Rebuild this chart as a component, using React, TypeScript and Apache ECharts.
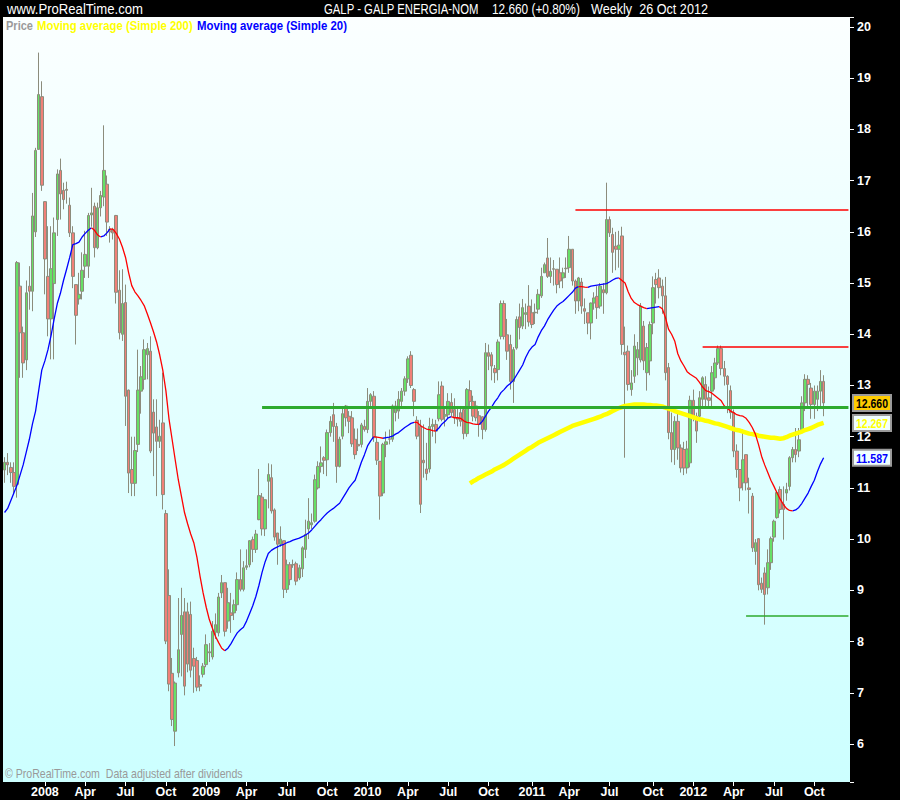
import React, { useEffect, useRef } from "react";
import * as echarts from "echarts";

// ---------- DATA (weekly, first week = 5 Oct 2007) ----------
// each candle: [open, close, low, high]
const candlesQ4_2007 = [
  [11.35, 11.5, 11.1, 11.6], [11.5, 11.45, 11.25, 11.68], [11.4, 11.3, 11.1, 11.5], [11.3, 11.03, 10.88, 11.5],
  [11.07, 15.4, 10.81, 15.43], [14.94, 14.03, 13.15, 15.4], [14.03, 13.44, 13.15, 14.15], [13.5, 14.81, 13.3, 15.05],
  [14.94, 14.84, 14.48, 15.33], [14.84, 16.31, 14.45, 16.76], [16.0, 17.59, 15.9, 17.64], [17.61, 18.68, 17.6, 19.5],
  [18.64, 16.91, 16.8, 18.94],
];
const candles2008 = [
  [16.59, 15.47, 14.78, 16.6], [15.13, 14.3, 13.96, 16.11], [14.3, 15.28, 13.51, 16.11], [14.99, 15.98, 13.51, 16.28],
  [16.24, 17.13, 15.92, 17.22], [17.2, 16.74, 16.24, 17.43], [16.81, 16.63, 16.44, 16.96], [16.83, 16.81, 16.55, 16.98],
  [16.52, 15.98, 15.9, 16.67], [15.98, 15.13, 14.9, 16.11], [14.97, 14.37, 13.8, 14.97], [14.69, 14.78, 14.58, 15.2],
  [14.84, 15.25, 14.68, 15.6], [15.33, 15.56, 15.1, 16.02], [15.33, 16.32, 15.1, 16.37], [16.33, 16.37, 16.1, 16.86],
  [16.5, 15.69, 15.5, 16.57], [15.69, 16.47, 15.66, 16.57], [16.47, 16.71, 16.3, 16.8], [16.68, 17.2, 16.5, 18.08],
  [16.93, 16.19, 15.92, 17.1], [16.05, 16.0, 15.79, 16.11], [16.02, 15.98, 15.85, 16.08], [16.32, 14.82, 14.6, 16.33],
  [14.86, 14.03, 13.9, 15.25], [14.0, 14.6, 13.87, 15.27], [14.62, 12.79, 12.21, 14.97], [12.91, 11.29, 10.9, 12.92],
  [11.36, 11.09, 10.84, 12.0], [11.09, 11.73, 10.84, 12.0], [11.85, 12.91, 11.7, 13.7], [12.89, 13.17, 12.45, 13.38],
  [13.12, 13.7, 12.92, 13.9], [13.6, 13.72, 13.12, 13.83], [13.67, 11.72, 11.68, 13.96], [12.48, 12.07, 11.23, 12.73],
  [12.19, 11.91, 10.84, 12.73], [11.91, 12.01, 11.78, 12.33], [12.27, 10.87, 10.58, 13.25], [10.5, 8.01, 7.95, 10.57],
  [8.9, 7.17, 7.03, 9.41], [7.38, 6.48, 6.35, 7.68], [6.25, 7.19, 5.96, 7.22], [7.39, 7.84, 7.3, 8.85],
  [8.14, 8.51, 7.32, 9.05], [8.58, 7.13, 6.95, 8.85], [8.58, 7.56, 7.4, 8.76], [8.53, 7.44, 7.3, 8.78],
  [7.67, 7.52, 7.0, 7.88], [7.63, 7.11, 7.03, 7.7], [7.16, 7.13, 7.03, 7.34], [7.36, 7.52, 7.3, 7.58],
];
const candles2009 = [
  [7.55, 7.94, 7.5, 8.14], [7.78, 7.8, 7.6, 7.97], [7.7, 8.2, 7.65, 8.4], [8.18, 8.33, 8.05, 8.55],
  [8.17, 8.87, 8.1, 8.95], [8.95, 9.15, 8.85, 9.3], [9.15, 8.2, 8.1, 9.15], [8.4, 8.76, 8.25, 9.05],
  [8.56, 8.51, 8.17, 8.95], [8.56, 8.72, 8.42, 8.82], [8.72, 9.21, 8.6, 9.35], [9.21, 9.02, 8.98, 9.8],
  [9.02, 9.44, 8.98, 9.57], [9.45, 9.48, 9.4, 9.8], [9.5, 9.97, 9.45, 9.98], [9.99, 9.8, 9.55, 10.05],
  [9.8, 10.1, 9.73, 10.18], [10.38, 10.85, 10.37, 11.37], [10.82, 10.2, 10.07, 10.9], [10.2, 10.77, 10.06, 10.77],
  [11.13, 11.26, 10.6, 11.48], [11.2, 10.55, 10.5, 11.46], [10.57, 10.04, 9.97, 10.6], [10.12, 9.9, 9.5, 10.12],
  [9.9, 10.0, 9.85, 10.25], [9.97, 9.02, 8.85, 9.97], [9.02, 9.5, 8.95, 9.6], [9.5, 9.21, 9.1, 9.55],
  [9.5, 9.5, 9.44, 9.6], [9.52, 9.18, 9.1, 9.56], [9.24, 9.44, 9.2, 9.5], [9.42, 9.83, 9.26, 9.86],
  [9.8, 10.09, 9.63, 10.38], [10.2, 10.35, 10.0, 10.8], [10.28, 10.32, 10.2, 10.5], [10.35, 11.16, 10.32, 11.26],
  [11.0, 11.42, 10.97, 11.52], [11.42, 11.49, 11.3, 11.81], [11.59, 11.54, 11.27, 11.62], [11.55, 12.08, 11.23, 12.14],
  [12.08, 12.3, 12.0, 12.4], [12.43, 12.2, 11.9, 12.66], [12.2, 11.42, 11.1, 12.27], [11.42, 11.95, 11.4, 12.0],
  [12.01, 12.45, 11.95, 12.6], [12.6, 12.37, 12.2, 12.62], [12.4, 12.3, 12.07, 12.5], [12.37, 11.86, 11.8, 12.5],
  [11.95, 11.65, 11.56, 12.16], [11.85, 11.82, 11.72, 12.16], [11.85, 12.23, 11.79, 12.27], [12.2, 12.14, 12.1, 12.33],
];
const candles2010 = [
  [12.14, 12.69, 12.07, 12.95], [12.69, 12.82, 12.6, 12.85], [12.79, 11.98, 11.9, 12.89], [11.89, 11.54, 11.45, 12.0],
  [11.52, 10.84, 10.38, 11.52], [10.9, 11.85, 10.84, 11.88], [11.85, 11.9, 11.6, 12.1], [11.96, 11.95, 11.85, 12.14],
  [11.95, 12.6, 11.9, 12.63], [12.47, 12.6, 12.3, 12.7], [12.5, 12.73, 12.35, 12.89], [12.69, 12.89, 12.6, 12.95],
  [12.89, 13.13, 12.8, 13.18], [13.13, 13.52, 13.05, 13.57], [13.59, 13.0, 12.95, 13.67], [12.92, 12.69, 12.4, 12.95],
  [12.32, 12.01, 11.95, 12.4], [12.2, 10.68, 10.51, 12.33], [11.54, 11.49, 11.2, 12.24], [11.37, 11.28, 11.15, 11.88],
  [11.37, 12.2, 11.3, 12.37], [12.2, 12.24, 12.0, 12.35], [12.24, 12.11, 11.87, 12.33], [12.35, 12.82, 12.3, 13.08],
  [12.99, 12.34, 12.3, 13.08], [12.4, 12.43, 12.2, 12.6], [12.43, 12.69, 12.35, 12.85], [12.67, 12.47, 12.4, 12.85],
  [12.53, 12.37, 12.25, 12.75], [12.37, 12.34, 12.2, 12.6], [12.47, 12.3, 12.2, 12.6], [12.53, 12.06, 11.95, 12.56],
  [12.06, 12.92, 12.0, 12.95], [12.9, 12.69, 12.6, 13.1], [12.69, 12.4, 12.3, 12.8], [12.6, 12.37, 12.3, 12.7],
  [12.41, 12.24, 12.0, 12.5], [12.39, 12.14, 11.95, 12.4], [12.14, 13.64, 12.1, 13.83], [13.64, 13.57, 13.3, 13.8],
  [13.6, 13.38, 13.1, 13.65], [13.33, 13.25, 13.05, 13.4], [13.31, 13.85, 13.1, 13.9], [13.96, 14.6, 13.9, 14.66],
  [14.6, 13.96, 13.9, 14.66], [13.99, 13.67, 13.5, 14.3], [13.8, 13.08, 12.92, 13.99], [13.08, 13.7, 12.66, 13.75],
  [13.73, 14.29, 13.7, 14.35], [14.34, 14.13, 13.9, 14.6], [14.16, 14.52, 14.1, 14.69], [14.39, 14.42, 14.1, 14.6],
  [14.55, 14.24, 14.15, 14.96],
];
const candles2011 = [
  [14.42, 14.19, 14.12, 14.68], [14.42, 14.43, 14.2, 14.6], [14.49, 14.78, 14.4, 14.88], [14.75, 15.13, 14.71, 15.3],
  [15.2, 15.36, 15.2, 15.4], [15.49, 15.13, 15.1, 15.88], [15.13, 15.23, 15.0, 15.5], [15.28, 15.27, 14.95, 15.45],
  [15.27, 14.97, 14.8, 15.27], [15.2, 15.04, 14.9, 15.5], [15.1, 15.2, 14.9, 15.3], [15.28, 15.29, 15.1, 15.5],
  [15.3, 15.66, 15.2, 15.92], [15.66, 15.04, 14.95, 15.66], [15.04, 14.65, 14.4, 15.07], [14.65, 15.1, 14.45, 15.12],
  [15.02, 14.55, 14.4, 15.1], [14.5, 14.45, 14.2, 14.7], [14.42, 14.22, 14.0, 14.42], [14.22, 14.61, 13.9, 14.62],
  [14.61, 14.71, 14.48, 14.82], [14.74, 14.52, 14.3, 14.94], [14.55, 14.94, 14.5, 15.0], [14.87, 14.81, 14.4, 15.0],
  [14.81, 16.24, 14.78, 16.96], [16.24, 15.98, 15.9, 16.3], [15.95, 15.6, 15.2, 16.08], [15.72, 15.66, 15.25, 16.0],
  [15.66, 15.74, 15.3, 16.02], [15.92, 13.8, 13.6, 16.1], [13.65, 13.6, 11.59, 14.15], [13.67, 13.02, 12.9, 13.78],
  [12.92, 13.05, 12.8, 13.3], [13.18, 13.77, 13.05, 14.0], [13.54, 13.7, 13.2, 13.85], [13.5, 14.55, 13.45, 14.61],
  [14.16, 13.48, 13.3, 14.26], [13.25, 13.74, 12.9, 13.83], [13.48, 14.19, 13.2, 14.25], [14.22, 14.91, 14.0, 15.13],
  [15.07, 14.97, 14.6, 15.2], [15.1, 14.91, 14.7, 15.27], [14.94, 14.75, 14.4, 15.07], [14.75, 13.25, 13.1, 15.12],
  [13.35, 12.08, 11.95, 13.44], [12.08, 11.75, 11.5, 12.47], [11.75, 12.3, 11.45, 12.4], [12.3, 11.78, 11.55, 12.5],
  [11.78, 11.39, 11.3, 11.85], [11.75, 11.39, 11.25, 11.9], [11.39, 11.76, 11.28, 11.92], [11.49, 12.71, 11.4, 12.8],
];
const candles2012 = [
  [12.71, 12.37, 12.3, 12.92], [12.4, 12.11, 11.88, 12.47], [12.4, 12.76, 12.3, 12.89], [12.73, 13.15, 12.55, 13.18],
  [13.02, 12.73, 12.55, 13.18], [12.76, 12.71, 12.55, 12.98], [12.89, 13.25, 12.56, 13.38], [13.15, 13.44, 12.92, 13.54],
  [13.44, 13.72, 13.4, 13.78], [13.72, 13.33, 13.2, 13.78], [13.33, 13.18, 13.0, 13.48], [13.18, 13.02, 12.46, 13.2],
  [12.9, 12.47, 12.35, 13.0], [12.47, 11.72, 11.6, 12.53], [11.72, 11.36, 11.2, 11.85], [11.36, 11.0, 10.74, 11.36],
  [11.1, 11.55, 10.95, 12.14], [11.65, 11.1, 10.95, 11.65], [11.0, 10.97, 10.5, 11.2], [10.84, 9.83, 9.75, 10.9],
  [9.76, 9.93, 9.5, 10.0], [10.01, 9.11, 9.0, 10.0], [9.14, 9.02, 8.95, 9.25], [9.34, 8.92, 8.33, 9.45],
  [9.05, 9.54, 8.92, 9.8], [9.54, 10.01, 9.4, 10.05], [10.04, 10.35, 9.95, 10.38], [10.42, 10.91, 10.4, 10.94],
  [10.97, 10.58, 10.5, 11.03], [10.68, 10.58, 9.99, 11.03], [10.9, 10.97, 10.75, 11.1], [11.03, 11.59, 10.95, 11.62],
  [11.59, 11.75, 11.5, 11.8], [11.75, 11.65, 11.5, 12.17], [11.72, 11.94, 11.6, 12.17], [12.14, 12.66, 12.1, 12.79],
  [12.66, 13.12, 12.5, 13.22], [13.12, 13.02, 12.6, 13.2], [12.95, 12.63, 12.35, 13.05], [12.63, 12.89, 12.35, 13.0],
  [12.73, 12.89, 12.5, 13.0], [12.89, 13.08, 12.6, 13.3], [13.08, 12.66, 12.4, 13.2],
];

// Moving average (Simple 20), one value per week
const ma20 = [
  10.52, 10.6, 10.75, 10.9, 11.05, 11.25, 11.45, 11.7, 11.95, 12.25, 12.5, 12.9, 13.3,
  13.48, 13.7, 13.98, 14.3, 14.6, 14.8, 15.05, 15.27, 15.5, 15.75, 15.77, 15.8, 15.9, 15.97, 16.03, 16.08, 16.03,
  15.94, 15.9, 15.92, 15.98, 16.06, 16.05, 15.97, 15.86, 15.7, 15.5, 15.2, 14.95, 14.83, 14.75, 14.66, 14.56, 14.4,
  14.23, 14.05, 13.85, 13.6, 13.3, 12.9, 12.35, 11.95, 11.55, 11.16, 10.84, 10.52, 10.3, 10.1, 9.93, 9.65, 9.28, 8.95,
  8.67, 8.43, 8.26, 8.1, 7.98, 7.87, 7.82, 7.87, 7.96, 8.07, 8.17, 8.23, 8.28, 8.4, 8.55, 8.7, 8.88, 9.1, 9.35, 9.56,
  9.72, 9.78, 9.82, 9.85, 9.88, 9.9, 9.93, 9.95, 9.98, 10.0, 10.02, 10.05, 10.08, 10.12, 10.18, 10.25, 10.32, 10.38,
  10.45, 10.51, 10.56, 10.6, 10.65, 10.7, 10.8, 10.9, 11.0, 11.08, 11.15, 11.32, 11.5, 11.65,
  11.82, 11.92, 12.0, 11.99, 11.98, 11.97, 11.98, 11.99, 12.01, 12.05, 12.08, 12.13, 12.18, 12.22, 12.26, 12.28, 12.28,
  12.22, 12.18, 12.15, 12.14, 12.12, 12.11, 12.17, 12.25, 12.3, 12.37, 12.39, 12.37, 12.37, 12.36, 12.31, 12.28, 12.27,
  12.25, 12.24, 12.24, 12.3, 12.4, 12.5, 12.58, 12.68, 12.76, 12.86, 12.92, 12.99, 13.04, 13.1, 13.2, 13.3, 13.4, 13.55, 13.67,
  13.75, 13.8, 13.95, 14.07, 14.16, 14.28, 14.38, 14.47, 14.55, 14.6, 14.64, 14.7, 14.76, 14.82, 14.9, 14.93, 14.93,
  14.92, 14.915, 14.94, 14.95, 14.96, 14.97, 14.98, 14.99, 15.02, 15.06, 15.09, 15.1, 15.05, 15.0, 14.83, 14.7, 14.62,
  14.58, 14.55, 14.52, 14.5, 14.51, 14.52, 14.53, 14.54, 14.5, 14.33, 14.1, 14.0, 13.87, 13.62, 13.48, 13.38, 13.27, 13.22,
  13.18, 13.14, 13.06, 12.97, 12.9, 12.88, 12.85, 12.8, 12.75, 12.7, 12.6, 12.55, 12.5, 12.47, 12.43, 12.41, 12.4, 12.36,
  12.28, 12.18, 12.05, 11.85, 11.62, 11.45, 11.3, 11.15, 11.03, 10.9, 10.78, 10.68, 10.6, 10.56, 10.55, 10.57, 10.62,
  10.7, 10.8, 10.9, 11.03, 11.15, 11.32, 11.47, 11.59,
];

// Moving average (Simple 200), visible from week 150
const MA200_START = 150;
const ma200 = [
  11.09, 11.13, 11.16, 11.2, 11.23, 11.26, 11.29, 11.32, 11.36, 11.39, 11.42, 11.45, 11.49, 11.53, 11.57, 11.61,
  11.65, 11.69, 11.73, 11.77, 11.8, 11.84, 11.88, 11.91, 11.94, 11.97, 12.0, 12.03, 12.06, 12.09, 12.12, 12.15,
  12.18, 12.21, 12.23, 12.25, 12.27, 12.29, 12.31, 12.33, 12.35, 12.37, 12.39, 12.42, 12.44, 12.47, 12.5, 12.53,
  12.56, 12.58, 12.6, 12.61, 12.62, 12.63, 12.63, 12.63, 12.63, 12.62, 12.62, 12.61, 12.61, 12.6, 12.59, 12.57,
  12.55, 12.53, 12.5, 12.48, 12.46, 12.44, 12.42, 12.4, 12.38, 12.36, 12.34, 12.33, 12.31, 12.3, 12.28, 12.26,
  12.25, 12.23, 12.21, 12.19, 12.17, 12.15, 12.13, 12.12, 12.1, 12.08, 12.06, 12.05, 12.04, 12.02, 12.01, 12.0,
  11.99, 11.98, 11.98, 11.97, 11.96, 11.97, 11.99, 12.02, 12.04, 12.06, 12.08, 12.1, 12.13, 12.15, 12.17, 12.2,
  12.23, 12.25, 12.27,
];

// horizontal levels: value and first week
const levelValues = [16.44, 13.76, 12.57, 8.51];
const levelStart = [184, 225, 83, 239];

// right-axis value tags: last close, last MA200, last MA20
const tagValues = [12.66, 12.267, 11.587];

const monthNames = ["Jan", "Feb", "Mar", "Apr", "May", "Jun", "Jul", "Aug", "Sep", "Oct", "Nov", "Dec"];

// ---------- helpers ----------
const candles = [
  ...candlesQ4_2007, ...candles2008, ...candles2009, ...candles2010, ...candles2011, ...candles2012,
];
const EXTRA_WEEKS = 8;
const N_CATS = candles.length + EXTRA_WEEKS;
const START_MS = Date.UTC(2007, 9, 5);
const WEEK = 7 * 86400000;
const weekDate = (i: number) => new Date(START_MS + i * WEEK);
const categories = Array.from({ length: N_CATS }, (_, i) => weekDate(i).toISOString().slice(0, 10));
const isQuarterStart = (i: number) => {
  if (i <= 0) return false;
  const m = weekDate(i).getUTCMonth();
  return m % 3 === 0 && m !== weekDate(i - 1).getUTCMonth();
};

const FONT = '"Liberation Sans", Arial, sans-serif';

let measureCtx: CanvasRenderingContext2D | null = null;
const measure = (text: string, size: number, weight: string) => {
  if (!measureCtx) measureCtx = document.createElement("canvas").getContext("2d");
  if (!measureCtx) return text.length * size * 0.5;
  measureCtx.font = `${weight} ${size}px ${FONT}`;
  return measureCtx.measureText(text).width;
};

export default function App() {
  const ref = useRef<HTMLDivElement>(null);

  useEffect(() => {
    if (!ref.current) return;
    const chart = echarts.init(ref.current, null, { renderer: "svg" });

    const upSeg = ma20.map((v, i) => {
      const a = i > 0 && ma20[i] > ma20[i - 1];
      const b = i < ma20.length - 1 && ma20[i + 1] > ma20[i];
      return a || b ? v : null;
    });
    const downSeg = ma20.map((v, i) => {
      const a = i > 0 && ma20[i] <= ma20[i - 1];
      const b = i < ma20.length - 1 && ma20[i + 1] <= ma20[i];
      return a || b ? v : null;
    });
    const ma200Data = categories.map((_, i) =>
      i >= MA200_START && i - MA200_START < ma200.length ? ma200[i - MA200_START] : null
    );

    const levelStyles = [
      { color: "#ff0000", width: 1.5 },
      { color: "#ff0000", width: 1.5 },
      { color: "#2eaa2e", width: 3 },
      { color: "#2eaa2e", width: 1.5 },
    ];
    const lastCat = N_CATS - 1;

    chart.setOption({
      animation: false,
      backgroundColor: "#000000",
      grid: {
        left: 3,
        right: 50,
        top: 17,
        bottom: 18,
        show: true,
        borderWidth: 0,
        backgroundColor: new echarts.graphic.LinearGradient(0, 0, 0, 1, [
          { offset: 0, color: "#fbffff" },
          { offset: 1, color: "#ccffff" },
        ]),
      },
      xAxis: {
        type: "category",
        data: categories,
        boundaryGap: true,
        axisLine: { show: false },
        axisTick: {
          show: true,
          alignWithLabel: true,
          interval: (i: number) => isQuarterStart(i),
          length: 4,
          lineStyle: { color: "#ffffff", width: 1 },
        },
        axisLabel: {
          interval: (i: number) => isQuarterStart(i),
          formatter: (v: string) => {
            const d = new Date(v + "T00:00:00Z");
            return d.getUTCMonth() === 0 ? String(d.getUTCFullYear()) : monthNames[d.getUTCMonth()];
          },
          color: "#ffffff",
          fontSize: 12.5,
          fontWeight: "bold",
          fontFamily: FONT,
          margin: 3,
        },
        splitLine: { show: false },
      },
      yAxis: {
        type: "value",
        position: "right",
        min: 5.258,
        max: 20.195,
        minInterval: 1,
        maxInterval: 1,
        axisLine: { show: false },
        axisTick: { show: true, length: 4, lineStyle: { color: "#ffffff" } },
        axisLabel: {
          color: "#ffffff",
          fontSize: 12.5,
          fontWeight: "bold",
          fontFamily: FONT,
          margin: 7,
          formatter: (v: number) => (Math.abs(v - Math.round(v)) < 1e-6 ? String(Math.round(v)) : ""),
        },
        splitLine: { show: false },
      },
      series: [
        {
          type: "candlestick",
          data: candles,
          barWidth: 3,
          z: 2,
          itemStyle: {
            color: "#66e066",
            color0: "#f08078",
            borderColor: "#8c8c7c",
            borderColor0: "#8c8c7c",
            borderWidth: 1,
          },
          markLine: {
            silent: true,
            symbol: ["none", "none"],
            label: { show: false },
            animation: false,
            data: levelValues.map((v, k) => [
              { coord: [levelStart[k], v], lineStyle: { color: levelStyles[k].color, width: levelStyles[k].width, type: "solid" } },
              { coord: [lastCat, v] },
            ]),
          },
        },
        {
          type: "line",
          name: "ma200",
          data: ma200Data,
          showSymbol: false,
          symbol: "none",
          connectNulls: false,
          z: 3,
          lineStyle: { color: "#ffff00", width: 4.5 },
        },
        {
          type: "line",
          name: "ma20up",
          data: upSeg,
          showSymbol: false,
          symbol: "none",
          connectNulls: false,
          z: 4,
          lineStyle: { color: "#0000ff", width: 1.3 },
        },
        {
          type: "line",
          name: "ma20down",
          data: downSeg,
          showSymbol: false,
          symbol: "none",
          connectNulls: false,
          z: 4,
          lineStyle: { color: "#ff0000", width: 1.3 },
        },
      ],
    });

    // text fitted horizontally to a target width (emulates the narrow font of the original)
    const fitText = (
      x: number, y: number, text: string, fill: string, size: number, width: number,
      weight = "normal", align = "left"
    ) => ({
      type: "text",
      x,
      y,
      z: 100,
      scaleX: width / measure(text, size, weight),
      style: { text, fill, fontSize: size, fontWeight: weight, fontFamily: FONT, verticalAlign: "middle", align },
    });

    const tagStyles = [
      { bg: "#ffcc00", fg: "#000000" },
      { bg: "#f0ffff", fg: "#ffff00" },
      { bg: "#f0ffff", fg: "#0000ff" },
    ];
    const tags = tagValues.map((v, k) => {
      const y = chart.convertToPixel({ yAxisIndex: 0 }, v) as number;
      return {
        type: "group",
        children: [
          {
            type: "rect",
            z: 100,
            shape: { x: 853, y: y - 8, width: 38, height: 16 },
            style: { fill: tagStyles[k].bg, stroke: "#9a9a9a", lineWidth: 2 },
          },
          fitText(872, y + 0.5, v.toFixed(3), tagStyles[k].fg, 13, 32, "bold", "center"),
        ],
      };
    });

    chart.setOption({
      graphic: [
        fitText(7, 9, "www.ProRealTime.com", "#ffffff", 15, 136),
        fitText(324, 9, "GALP - GALP ENERGIA-NOM", "#ffffff", 15, 155),
        fitText(492, 9, "12.660 (+0.80%)", "#ffffff", 15, 88),
        fitText(591, 9, "Weekly  26 Oct 2012", "#ffffff", 15, 117),
        fitText(6, 26, "Price", "#9a9a9a", 13, 27, "bold"),
        fitText(37, 26, "Moving average (Simple 200)", "#ffff00", 13, 156, "bold"),
        fitText(197, 26, "Moving average (Simple 20)", "#0000ff", 13, 150, "bold"),
        fitText(5, 774, "\u00a9 ProRealTime.com  Data adjusted after dividends", "#999999", 12, 238),
        ...tags,
      ],
    });

    return () => chart.dispose();
  }, []);

  return (
    <div
      ref={ref}
      style={{ position: "absolute", left: 0, top: 0, width: 900, height: 800 }}
    />
  );
}
